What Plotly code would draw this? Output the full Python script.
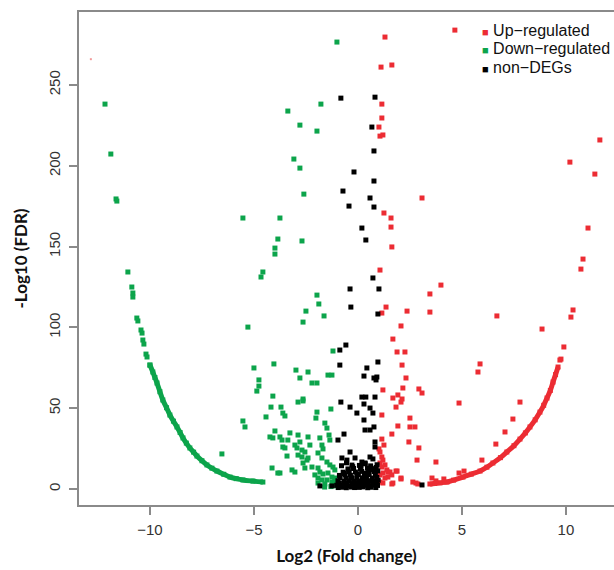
import plotly.graph_objects as go

# ---------------- data (Log2 fold change, -Log10 FDR) ----------------
# Up-regulated: scattered points
up_x = [4.66, 1.30, 1.11, 1.63, 1.15, 1.15, 1.01, 1.06, 1.20, 3.08, 1.25, 1.59, 1.59, 1.63,
        1.06, 3.99, 3.46, 1.35, 1.15, 2.36, 3.46, 6.68, 2.07, 8.85, 1.68, 1.88, 2.26, 2.12,
        5.87, 5.77, 2.31, 2.16, 2.93, 3.08, 1.20, 1.68, 1.92, 2.07, 1.83, 4.86, 7.79, 2.50,
        1.15, 7.45, 1.92, 2.50, 2.74, 7.07, 1.63, 1.15, 2.45, 6.63, 2.93, 2.84, 3.75, 5.96,
        4.86, 5.10, 1.83, 1.44, 1.20, 2.07, 1.68, 2.64, 2.79, 2.88, 3.56, 3.75, 4.13, 2.12,
        1.01, 1.15, 1.20, 1.06, 1.30, 1.15, 1.39, 1.54, 1.44, 1.30, 1.63, 1.06, 1.88, 2.07,
        1.63, 1.20, 1.06, 1.06, 1.25, 9.71, 9.76, 9.90, 10.24, 10.34, 10.72, 10.82, 11.06,
        11.39, 10.19, 11.63]
up_y = [284.0, 279.7, 261.1, 262.4, 238.2, 229.6, 224.0, 218.4, 219.1, 180.1, 170.8, 167.7,
        162.1, 149.8, 135.5, 126.2, 120.7, 112.6, 108.9, 110.1, 109.5, 107.1, 100.9, 99.0,
        92.8, 84.8, 84.8, 76.7, 77.4, 72.4, 68.7, 62.5, 61.9, 59.4, 61.3, 56.3, 58.2, 53.8,
        50.7, 53.2, 53.8, 43.9, 45.8, 43.3, 39.0, 38.4, 38.4, 35.3, 34.0, 30.9, 29.1, 27.8,
        25.4, 17.9, 16.7, 17.9, 9.9, 11.1, 11.1, 10.5, 9.9, 6.2, 3.7, 4.3, 3.7, 3.1, 6.8,
        5.0, 6.2, 55.7, 24.8, 19.8, 17.9, 16.1, 14.9, 13.6, 11.8, 10.5, 7.4, 6.8, 8.7, 8.7,
        11.1, 6.8, 3.1, 3.7, 4.3, 22.9, 27.2, 79.8, 80.4, 87.9, 106.4, 110.8, 136.1, 142.3,
        161.5, 194.9, 202.3, 216.0]

# Up-regulated: dense arc of points on the right
up_arc_x = [3.46, 3.70, 3.95, 4.28, 4.60, 5.05, 5.45, 5.87, 6.20, 6.49, 6.85, 7.16, 7.50,
            7.79, 8.05, 8.27, 8.52, 8.75, 8.93, 9.09, 9.25, 9.38, 9.50, 9.62]
up_arc_y = [3.1, 3.4, 3.8, 4.3, 5.5, 7.4, 9.2, 11.1, 13.5, 16.1, 19.4, 22.9, 26.8,
            30.9, 34.7, 38.4, 42.8, 47.6, 51.8, 56.3, 61.0, 66.2, 70.8, 75.5]

# Down-regulated: scattered points
down_x = [-1.01, -12.16, -11.88, -11.63, -11.59, -11.06, -3.37, -1.78, -2.79, -1.97, -3.08,
          -2.79, -2.60, -5.53, -3.75, -3.85, -2.69, -3.99, -3.99, -4.57, -4.66, -1.97, -1.88,
          -2.50, -1.63, -2.64, -5.29, -1.20, -4.04, -5.00, -4.76, -4.76, -4.86, -2.98, -2.40,
          -2.79, -1.44, -1.25, -2.21, -1.97, -4.09, -2.64, -4.18, -3.70, -2.88, -2.64, -3.61,
          -3.51, -4.42, -1.97, -2.02, -1.30, -5.53, -5.43, -1.59, -1.49, -3.99, -4.23, -4.09,
          -3.75, -3.65, -3.27, -3.37, -2.88, -2.79, -2.40, -2.31, -1.83, -1.73, -1.68, -1.39,
          -1.35, -3.61, -3.51, -3.03, -2.93, -2.69, -2.55, -3.41, -2.88, -2.69, -2.45, -2.40,
          -1.92, -1.73, -1.49, -1.35, -1.20, -1.11, -2.64, -2.21, -1.92, -4.13, -3.85, -3.75,
          -3.17, -3.03, -2.55, -1.83, -1.68, -1.44, -1.25, -1.11, -2.07, -1.92, -1.73, -1.49,
          -1.25, -1.11, -1.92, -1.59, -6.54, -1.05, -1.30, -1.60]
down_y = [276.6, 238.2, 207.3, 179.5, 178.2, 134.3, 233.9, 238.2, 225.2, 221.5, 204.2,
          198.6, 182.5, 167.7, 167.7, 154.7, 153.5, 149.1, 145.4, 134.3, 131.2, 120.0, 114.5,
          110.1, 107.1, 103.3, 100.2, 85.4, 77.4, 74.9, 67.5, 63.7, 60.6, 73.6, 72.4, 68.7,
          70.5, 70.5, 65.6, 65.6, 57.5, 55.7, 50.7, 50.7, 53.8, 54.5, 47.0, 45.2, 44.6, 47.6,
          43.9, 49.5, 42.1, 38.4, 40.8, 37.7, 35.9, 32.2, 31.6, 32.2, 30.3, 34.7, 30.3, 33.4,
          29.1, 32.2, 27.2, 31.6, 27.2, 24.8, 33.4, 30.3, 26.0, 25.4, 27.2, 25.4, 24.1, 22.9,
          20.4, 21.0, 19.8, 17.9, 19.2, 22.3, 19.2, 16.7, 14.9, 13.6, 11.8, 16.1, 13.6, 13.0,
          13.0, 9.9, 9.9, 11.8, 10.5, 13.0, 10.5, 9.3, 9.9, 7.4, 6.8, 8.7, 6.8, 5.6, 5.6,
          4.3, 4.3, 3.7, 3.1, 21.7, 2.0, 1.5, 1.2]

# Down-regulated: dense arc of points on the left
down_arc_x = [-10.87, -10.82, -10.82, -10.63, -10.58, -10.43, -10.38, -10.34, -10.29, -10.19,
              -10.14, -10.00, -9.86, -9.76, -9.66, -9.52, -9.38, -9.20, -9.04, -8.87, -8.70,
              -8.55, -8.41, -8.25, -8.08, -7.90, -7.74, -7.50, -7.26, -7.02, -6.78, -6.45,
              -6.15, -5.85, -5.53, -5.05, -4.57]
down_arc_y = [125.0, 121.3, 118.8, 105.8, 104.0, 98.4, 96.5, 92.2, 89.7, 83.5,
              81.7, 76.7, 72.4, 69.0, 65.6, 60.2, 55.1, 50.3, 45.8, 42.0, 38.4,
              35.0, 31.6, 28.4, 25.4, 22.8, 20.4, 17.5, 14.9, 12.9, 11.1, 9.1,
              7.4, 6.4, 5.6, 4.9, 4.3]

# non-DEGs
non_x = [-0.82, 0.82, 0.67, 0.77, -0.19, 0.77, -0.72, 0.58, -0.43, 0.77, 0.19, 0.38, 0.72,
         -0.38, 1.01, -0.34, 0.96, -0.58, -0.87, -0.87, 0.96, 0.43, 0.29, 0.77, 0.91, 0.87,
         0.19, 0.38, 0.82, -0.82, -0.38, -0.05, 0.29, 0.58, 0.72, 0.29, 0.34, 0.58, 0.77,
         -0.67, -0.96, 0.82, 0.82, -0.38, -0.14, -0.77, -0.53, 0.58, 0.72, 0.19, 0.34,
         -1.83, -1.25, 3.08,
         -0.95, -0.74, -0.56, -0.33, -0.16, 0.06, 0.24, 0.47, 0.63, 0.86,
         -1.02, -0.84, -0.61, -0.44, -0.22, 0.01, 0.17, 0.36, 0.53, 0.76, 0.94,
         -0.91, -0.69, -0.52, -0.28, -0.09, 0.11, 0.32, 0.49, 0.71, 0.89,
         -0.96, -0.66, -0.41, -0.19, 0.04, 0.26, 0.44, 0.62, 0.81, 0.97,
         -0.86, -0.57, -0.31, -0.06, 0.21, 0.41, 0.69, 0.91,
         -0.89, -0.62, -0.36, 0.02, 0.31, 0.54, 0.84,
         -0.71, -0.42, -0.12, 0.18, 0.51, 0.79, 0.95,
         -0.48, -0.21, 0.12, 0.46, 0.74, 0.88,
         -0.79, -0.29, 0.07, 0.61, 0.92, -0.55, 0.35,
         -0.65, -0.05, 0.39, 0.68, -0.25, 0.15, 0.57]
non_y = [241.9, 242.5, 224.0, 209.2, 196.2, 190.6, 184.4, 180.1, 175.1, 174.5, 161.5, 154.1,
         130.6, 123.8, 123.8, 112.6, 108.3, 89.1, 86.0, 76.7, 78.6, 74.9, 69.9, 68.7, 69.3,
         67.5, 56.9, 56.9, 56.9, 53.8, 50.7, 47.0, 52.6, 50.1, 47.0, 42.7, 36.5, 36.5, 38.4,
         34.0, 30.3, 29.1, 26.0, 22.9, 19.2, 19.2, 17.9, 19.8, 18.6, 16.7, 16.1,
         1.9, 1.9, 2.5,
         0.9, 1.1, 0.8, 1.2, 0.9, 1.0, 1.3, 0.8, 1.1, 0.9,
         2.3, 2.1, 2.4, 2.0, 2.2, 2.5, 2.1, 2.3, 2.0, 2.4, 2.2,
         3.6, 3.4, 3.7, 3.3, 3.6, 3.5, 3.8, 3.4, 3.6, 3.5,
         5.1, 4.9, 5.2, 4.8, 5.0, 5.3, 4.9, 5.1, 5.0, 5.4,
         6.9, 6.7, 7.0, 6.6, 6.9, 7.1, 6.8, 7.2,
         8.4, 8.7, 8.5, 8.8, 8.6, 8.9, 8.5,
         10.4, 10.7, 10.5, 10.9, 10.6, 10.8, 11.2,
         12.4, 12.7, 12.5, 12.9, 12.6, 13.3,
         14.4, 14.8, 14.6, 14.3, 15.0, 16.2, 15.6,
         9.6, 9.4, 9.8, 12.0, 13.8, 14.1, 11.9]

# faint stray point at top-left
stray_x = [-12.84]
stray_y = [266.0]

legend_labels = ["Up\u2212regulated", "Down\u2212regulated", "non\u2212DEGs"]
x_ticks = [-10, -5, 0, 5, 10]
y_ticks = [0, 50, 100, 150, 200, 250]

RED = "#EC2C33"
GREEN = "#0CA44B"
BLACK = "#000000"
MS = 5
legend_colors = [RED, GREEN, BLACK]

fig = go.Figure()

# arcs (drawn as densely packed markers joined into a thick band)
fig.add_trace(go.Scatter(x=down_arc_x[:12], y=down_arc_y[:12], mode="markers",
                         marker=dict(symbol="square", size=MS, color=GREEN),
                         showlegend=False, hoverinfo="skip"))
fig.add_trace(go.Scatter(x=down_arc_x[11:], y=down_arc_y[11:], mode="lines+markers",
                         line=dict(color=GREEN, width=5, shape="spline"),
                         marker=dict(symbol="square", size=MS, color=GREEN),
                         showlegend=False, hoverinfo="skip"))
fig.add_trace(go.Scatter(x=up_arc_x, y=up_arc_y, mode="lines+markers",
                         line=dict(color=RED, width=5, shape="spline"),
                         marker=dict(symbol="square", size=MS, color=RED),
                         showlegend=False, hoverinfo="skip"))

fig.add_trace(go.Scatter(x=up_x, y=up_y, mode="markers", name=legend_labels[0],
                         marker=dict(symbol="square", size=MS, color=RED), showlegend=False))
fig.add_trace(go.Scatter(x=down_x, y=down_y, mode="markers", name=legend_labels[1],
                         marker=dict(symbol="square", size=MS, color=GREEN), showlegend=False))
fig.add_trace(go.Scatter(x=non_x, y=non_y, mode="markers", name=legend_labels[2],
                         marker=dict(symbol="square", size=MS, color=BLACK), showlegend=False))
fig.add_trace(go.Scatter(x=stray_x, y=stray_y, mode="markers", showlegend=False,
                         marker=dict(symbol="square", size=2, color="#F29A9A"),
                         hoverinfo="skip"))

# legend (R-style compact key), one text row per group
legend_rows_y = [0.9615, 0.925, 0.8884]
for c, lab, ry in zip(legend_colors, legend_labels, legend_rows_y):
    fig.add_annotation(xref="paper", yref="paper", x=0.7495, y=ry,
                       xanchor="left", yanchor="middle", showarrow=False, align="left",
                       text=f"<span style='color:{c};font-size:11px'>\u25A0</span> {lab}",
                       font=dict(family="Liberation Sans, Arial, sans-serif", size=16,
                                 color="#111111"))

tick_font = dict(family="Liberation Sans, Arial, sans-serif", size=15, color="#333333")
title_font = dict(family="Lato, Open Sans, sans-serif", size=17, color="#111111")

fig.update_layout(
    width=614, height=570,
    margin=dict(l=79, r=0, t=12, b=65, autoexpand=False),
    paper_bgcolor="white", plot_bgcolor="white",
    showlegend=False,
    xaxis=dict(range=[-13.41, 12.31], tickvals=x_ticks,
               ticktext=[("\u2212" + str(abs(v))) if v < 0 else str(v) for v in x_ticks],
               showgrid=False, zeroline=False, showline=True, mirror=True,
               linecolor="#8A8A8A", linewidth=1.5, ticks="outside", ticklen=8,
               tickcolor="#8A8A8A", tickwidth=1.5, tickfont=tick_font,
               ticklabelstandoff=2, automargin=False,
               title=dict(text="<b>Log2 (Fold change)</b>", font=title_font, standoff=13)),
    yaxis=dict(range=[-9.9, 295.2], tickvals=y_ticks, tickangle=-90,
               showgrid=False, zeroline=False, showline=True, mirror=False,
               linecolor="#8A8A8A", linewidth=1.5, ticks="outside", ticklen=8,
               tickcolor="#8A8A8A", tickwidth=1.5, tickfont=tick_font,
               ticklabelstandoff=3, automargin=False,
               title=dict(text="<b>-Log10 (FDR)</b>", font=title_font, standoff=14)),
)

fig.write_html("out.html", config={"displayModeBar": False},
               post_script="document.body.style.margin='0';document.body.style.overflow='hidden';")
